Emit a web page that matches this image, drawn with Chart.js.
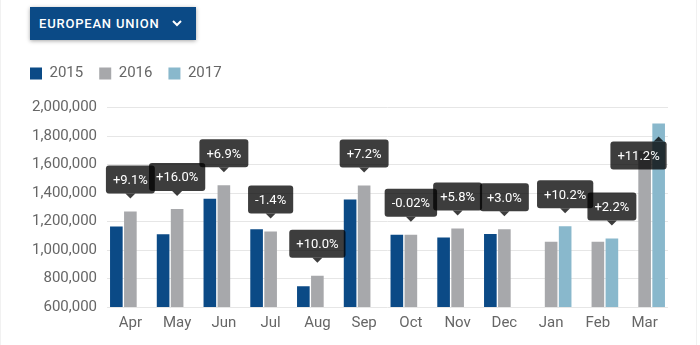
<!DOCTYPE html>
<html>
<head>
<meta charset="utf-8">
<script src="https://cdn.jsdelivr.net/npm/chart.js@4/dist/chart.umd.min.js"></script>
<style>
  body { margin: 0; background: #fff; font-family: Roboto, sans-serif; }
  .card { position: absolute; left: 0; top: -2; width: 695px; height: 350px; border-left: 1px solid #f1f1f1; border-right: 1px solid #f1f1f1; }
  .region { position: absolute; left: 30px; top: 7px; width: 166px; height: 33px; background: #0b4a86;
    box-shadow: 0 1px 4px rgba(0,0,0,0.35); color: #fff; font: 500 13px Roboto, sans-serif; letter-spacing: 0.8px; line-height: 33px; }
  .region span { position: absolute; left: 9px; }
  .region svg { position: absolute; left: 142px; top: 13px; }
  #wrap { position: absolute; left: 14px; top: 49.5px; width: 662px; height: 289px; }
</style>
</head>
<body>
<div class="card"></div>
<div class="region"><span>EUROPEAN UNION</span>
  <svg width="10" height="7" viewBox="0 0 10 7"><polyline points="1,1 5,5 9,1" fill="none" stroke="#fff" stroke-width="2"/></svg>
</div>
<div id="wrap"><canvas id="chart"></canvas></div>
<script>
const months = ['Apr', 'May', 'Jun', 'Jul', 'Aug', 'Sep', 'Oct', 'Nov', 'Dec', 'Jan', 'Feb', 'Mar'];
const y2015 = [1165000, 1110000, 1360000, 1145000, 745000, 1355000, 1107000, 1088000, 1112000, null, null, null];
const y2016 = [1271000, 1287000, 1454000, 1129000, 819500, 1452000, 1107000, 1151000, 1145000, 1058000, 1058000, 1697000];
const y2017 = [null, null, null, null, null, null, null, null, null, 1166000, 1081000, 1887000];
const changes = ['+9.1%', '+16.0%', '+6.9%', '-1.4%', '+10.0%', '+7.2%', '-0.02%', '+5.8%', '+3.0%', '+10.2%', '+2.2%', '+11.2%'];
// which dataset each change label points at (1 = 2016, 2 = 2017)
const changeOn = [1, 1, 1, 1, 1, 1, 1, 1, 1, 2, 2, 2];

const colors = ['#0b4a86', '#a7a8ab', '#89b8cc'];

// always-on tooltip boxes with the year-on-year change
const changeLabels = {
  id: 'changeLabels',
  afterDatasetsDraw(chart) {
    const ctx = chart.ctx;
    const area = chart.chartArea;
    ctx.save();
    ctx.font = '13px Roboto';
    changes.forEach((text, i) => {
      const bar = chart.getDatasetMeta(changeOn[i]).data[i];
      const x = bar.x, y = bar.y;
      const w = ctx.measureText(text).width + 14, h = 28;
      const caret = 5, pad = 13, r = 3;
      let below = y - pad - caret - h < area.top;
      let left = x - w / 2;
      if (left + w > chart.width) left = x + r + caret - w;
      let top, tipY, baseY;
      if (below) {
        tipY = y + pad; baseY = tipY + caret; top = baseY;
      } else {
        tipY = y - pad; baseY = tipY - caret; top = baseY - h;
      }
      ctx.fillStyle = 'rgba(0,0,0,0.76)';
      ctx.beginPath();
      ctx.roundRect(left, top, w, h, r);
      ctx.fill();
      ctx.beginPath();
      ctx.moveTo(x - caret, baseY);
      ctx.lineTo(x, tipY);
      ctx.lineTo(x + caret, baseY);
      ctx.closePath();
      ctx.fill();
      ctx.fillStyle = '#fff';
      ctx.textAlign = 'center';
      ctx.textBaseline = 'middle';
      ctx.fillText(text, left + w / 2, top + h / 2 + 1);
    });
    ctx.restore();
  }
};

const legendSpace = {
  id: 'legendSpace',
  beforeInit(chart) {
    const fit = chart.legend.fit;
    chart.legend.fit = function () {
      fit.bind(chart.legend)();
      this.height += 16.5;
    };
  }
};

new Chart(document.getElementById('chart'), {
  type: 'bar',
  data: {
    labels: months,
    datasets: [
      { label: '2015', data: y2015, backgroundColor: colors[0] },
      { label: '2016', data: y2016, backgroundColor: colors[1] },
      { label: '2017', data: y2017, backgroundColor: colors[2] }
    ]
  },
  options: {
    responsive: true,
    maintainAspectRatio: false,
    animation: false,
    datasets: { bar: { categoryPercentage: 0.9, barPercentage: 0.9 } },
    layout: { padding: { right: 8, bottom: 0 } },
    plugins: {
      tooltip: { enabled: false },
      legend: {
        position: 'top',
        align: 'start',
        labels: {
          boxWidth: 12,
          boxHeight: 12,
          padding: 16,
          color: '#666',
          font: { family: 'Roboto', size: 15 }
        }
      }
    },
    scales: {
      x: {
        grid: { display: false, drawTicks: false },
        border: { display: false },
        ticks: { color: '#666', padding: 7, font: { family: 'Roboto', size: 15 } }
      },
      y: {
        min: 600000,
        max: 2000000,
        afterFit(scale) { scale.width = 93; },
        grid: { color: '#e6e6e6', drawTicks: false },
        border: { display: false },
        ticks: {
          stepSize: 200000,
          padding: 10,
          color: '#666',
          font: { family: 'Roboto', size: 15 },
          callback: v => v.toLocaleString('en-US')
        }
      }
    }
  },
  plugins: [changeLabels, legendSpace]
});
</script>
</body>
</html>
